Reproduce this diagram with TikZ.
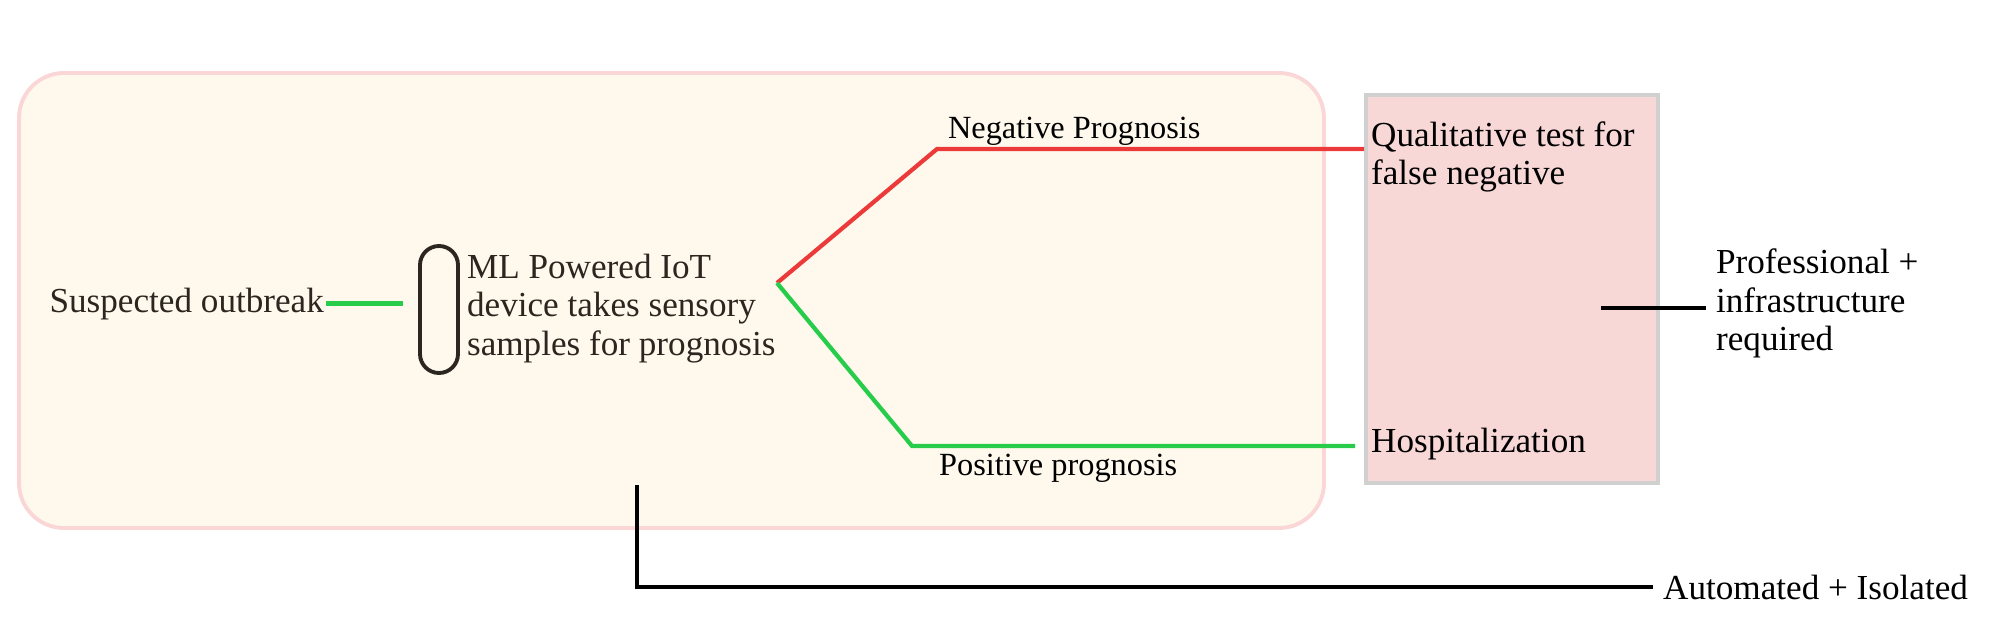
\documentclass[tikz,border=0pt]{standalone}
\usepackage{fontspec}
\setmainfont{Liberation Serif}
\usepackage{xcolor}
\usepackage{tikz}
\usetikzlibrary{positioning}

\definecolor{creamfill}{RGB}{254,249,236}
\definecolor{pinkedge}{RGB}{250,214,214}
\definecolor{carefill}{RGB}{248,215,215}
\definecolor{careedge}{RGB}{208,208,208}
\definecolor{negred}{RGB}{236,58,58}
\definecolor{posgreen}{RGB}{38,204,74}
\definecolor{inkbrown}{RGB}{43,38,32}

\begin{document}
\begin{tikzpicture}[x=0.2mm,y=-0.2mm,
    lbl/.style={font=\fontsize{20}{21.8}\selectfont,inner sep=1pt},
    branchlbl/.style={lbl,font=\fontsize{18.4}{20}\selectfont},
    multi/.style={lbl,align=left},
    homebox/.style={draw=pinkedge,fill=creamfill,line width=2.2pt,rounded corners=9mm,
        minimum width=261mm,minimum height=91mm,inner sep=0pt},
    carebox/.style={draw=careedge,fill=carefill,line width=2.2pt,
        minimum width=58.4mm,minimum height=77.6mm,inner sep=0pt},
    capsule/.style={draw=inkbrown,line width=2.2pt,rounded corners=3.8mm,
        minimum width=7.6mm,minimum height=25.4mm,inner sep=0pt},
    negline/.style={draw=negred,line width=2.4pt},
    posline/.style={draw=posgreen,line width=2.4pt},
    markline/.style={draw=black,line width=2.4pt}]
    \useasboundingbox (0,0) rectangle (1999,626);

    \node[homebox] (home) at (671.5,300.5) {};
    \node[carebox] (care) at (1512,289) {};

    \node[lbl,text=inkbrown,anchor=base east] (susp) at (326,312) {Suspected outbreak};
    \node[capsule] (dev) at (439,309.5) {};
    \node[multi,text=inkbrown,anchor=west] (ml) at (465,308.5) {ML Powered IoT\\device takes sensory\\samples for prognosis};
    \draw[posline,shorten >=3mm] (susp.east) -- (susp.east -| dev.west);

    \coordinate (fork) at (777,283);
    \coordinate (negbend) at (937,149);
    \coordinate (posbend) at (912,446);
    \draw[negline] (fork) -- (negbend) -- (negbend -| care.west);
    \draw[posline,shorten >=1.8mm] (fork) -- (posbend) -- (posbend -| care.west);

    \node[branchlbl,anchor=base west] (neg) at (946,139) {Negative Prognosis};
    \node[branchlbl,anchor=base west] (pos) at (937,475) {Positive prognosis};
    \node[multi,anchor=west] (qual) at (1369,157) {Qualitative test for\\false negative};
    \node[lbl,anchor=base west] (hosp) at (1369,452) {Hospitalization};
    \node[multi,anchor=west] (prof) at (1714,303.5) {Professional +\\infrastructure\\required};
    \node[lbl,anchor=base west] (auto) at (1661,599) {Automated + Isolated};

    \coordinate (careside) at (1601,308);
    \coordinate (homefoot) at (637,485);
    \draw[markline,shorten >=1.6mm] (careside) -- (careside -| prof.west);
    \draw[markline,shorten >=1.6mm] (homefoot) |- (auto.west);
\end{tikzpicture}
\end{document}
